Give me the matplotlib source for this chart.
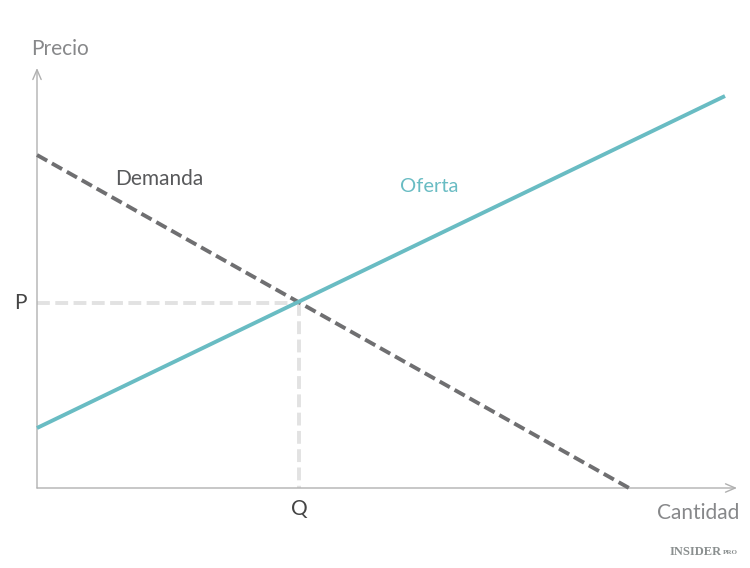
import matplotlib
matplotlib.use("Agg")
import matplotlib.pyplot as plt

plt.rcParams['font.family'] = ['Lato', 'DejaVu Sans']

# Values (axes units: pixels from the origin)
demand_q = [0, 592]
demand_p = [333, 0]
supply_q = [0, 688]
supply_p = [60, 392]
eq_q = 262
eq_p = 185
x_max = 700
y_max = 420

TEAL = '#69bcc3'
DARK = '#6f6f71'
GUIDE = '#e2e2e2'
AXIS = '#b0b0b0'
LABEL = '#87888a'

fig = plt.figure(figsize=(7.5, 5.68), dpi=100, facecolor='white')
ax = fig.add_axes([37/750, 80/568, 700/750, 420/568])
ax.set_xlim(0, x_max)
ax.set_ylim(0, y_max)
ax.axis('off')

# Axes with open arrowheads
arrow = dict(arrowstyle='->,head_length=0.7,head_width=0.3', color=AXIS, lw=1.0, shrinkA=0, shrinkB=0)
ax.annotate('', xy=(x_max, 0), xytext=(0, 0), annotation_clip=False, arrowprops=arrow)
ax.annotate('', xy=(0, y_max), xytext=(0, 0), annotation_clip=False, arrowprops=arrow)

# Equilibrium guides
ax.plot([0, eq_q], [eq_p, eq_p], color=GUIDE, lw=2.8, dashes=(3.3, 1.4), dash_capstyle='butt', zorder=2)
ax.plot([eq_q, eq_q], [eq_p, 0], color=GUIDE, lw=2.8, dashes=(3.3, 1.4), dash_capstyle='butt', zorder=2)

# Curves
ax.plot(demand_q, demand_p, color=DARK, lw=2.8, dashes=(3.0, 1.4), dash_capstyle='butt', zorder=3, clip_on=False)
ax.plot(supply_q, supply_p, color=TEAL, lw=2.8, solid_capstyle='butt', zorder=4, clip_on=False)

# Labels
ax.text(78, 309, 'Demanda', fontsize=15, color='#58595b', ha='left', va='center')
ax.text(363, 301, 'Oferta', fontsize=14.5, color=TEAL, ha='left', va='center')
ax.text(-6, 439, 'Precio', fontsize=15, color=LABEL, ha='left', va='center', clip_on=False)
ax.text(702, -25, 'Cantidad', fontsize=15, color=LABEL, ha='right', va='center', clip_on=False)
ax.text(-17, eq_p, 'P', fontsize=15, color='#444444', ha='center', va='center', clip_on=False)
ax.text(eq_q, -21, 'Q', fontsize=15, color='#444444', ha='center', va='center', clip_on=False)

# Source mark
ax.text(685, -64, 'INSIDER', fontsize=9, color='#8a8f8f', family=['Liberation Serif'], weight='bold',
        ha='right', va='center', clip_on=False)
ax.text(701, -64, 'PRO', fontsize=5, color='#8a8f8f', family=['Liberation Serif'], weight='bold',
        ha='right', va='center', clip_on=False)

fig.savefig('out.png', dpi=100)
